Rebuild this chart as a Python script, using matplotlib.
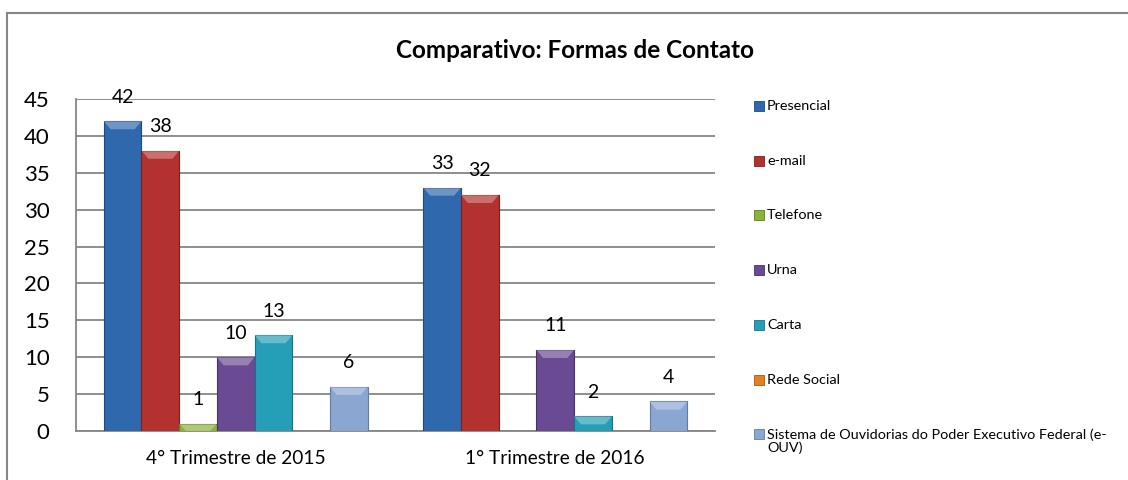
import numpy as np
import matplotlib
matplotlib.use("Agg")
import matplotlib.pyplot as plt
from matplotlib.lines import Line2D
from matplotlib.patches import Rectangle, Polygon

plt.rcParams['font.family'] = ['Lato', 'DejaVu Sans']

# data
categories = ['4° Trimestre de 2015', '1° Trimestre de 2016']
series = ['Presencial', 'e-mail', 'Telefone', 'Urna', 'Carta', 'Rede Social',
          'Sistema de Ouvidorias do Poder Executivo Federal (e-\nOUV)']
presencial = [42, 33]
email = [38, 32]
telefone = [1, 0]
urna = [10, 11]
carta = [13, 2]
rede_social = [0, 0]
e_ouv = [6, 4]
values = [presencial, email, telefone, urna, carta, rede_social, e_ouv]

colors = ['#2F68AC', '#B3312E', '#8AB437', '#6A4B93', '#259FB8', '#E4801F', '#8CA6D2']
edges = ['#1F4A80', '#7E1F1D', '#5E7E22', '#47306A', '#187286', '#A85A10', '#5F7BAA']

fig = plt.figure(figsize=(11.28, 4.8), dpi=100)
ax = fig.add_axes([76 / 1128, 49 / 480, (715 - 76) / 1128, (431 - 99) / 480])

x = np.arange(len(categories))
n = len(series)
width = 0.826 / n

for i, (name, vals) in enumerate(zip(series, values)):
    pos = x - 0.413 + width * (i + 0.5)
    bars = ax.bar(pos, vals, width, color=colors[i], edgecolor=edges[i], linewidth=0.8, zorder=3)
    for b, v in zip(bars, vals):
        if v > 0:
            # lighter bevel at the top of each bar
            h = min(1.1, v)
            x0, x1 = b.get_x(), b.get_x() + width
            ax.add_patch(Polygon([(x0, v), (x1, v), (x1 - width * 0.18, v - h), (x0 + width * 0.18, v - h)],
                                 closed=True, facecolor='white', alpha=0.3, linewidth=0, zorder=4))
            ax.text(b.get_x() + width / 2, v + 3.25, str(v), ha='center', va='center',
                    fontsize=14, color='#000000', zorder=5)

ax.set_xlim(-0.5, 1.5)
ax.set_ylim(0, 45)
ax.set_yticks(np.arange(0, 46, 5))
ax.set_xticks(x)
ax.set_xticklabels(categories, fontsize=13.8)
ax.tick_params(axis='y', labelsize=16, length=0, pad=19)
ax.tick_params(axis='x', length=0, pad=14)
ax.grid(axis='y', color='#868686', linewidth=1.3, zorder=0)
for s in ['top', 'right']:
    ax.spines[s].set_visible(False)
for s in ['left', 'bottom']:
    ax.spines[s].set_color('#868686')
    ax.spines[s].set_linewidth(1.3)

fig.text(575 / 1128, 1 - 50 / 480, 'Comparativo: Formas de Contato', ha='center', va='center',
         fontsize=17.5, fontweight='bold')

# legend drawn by hand
y0 = 106
step = 54.7
for i, name in enumerate(series):
    yc = y0 + i * step
    fig.add_artist(Rectangle((754 / 1128, 1 - (yc + 5) / 480), 10 / 1128, 10 / 480,
                             transform=fig.transFigure, facecolor=colors[i],
                             edgecolor=edges[i], linewidth=0.6))
    fig.text(767 / 1128, 1 - (yc - 6) / 480, name, ha='left', va='top', fontsize=10.4,
             linespacing=1.1)

# outer frame (top and left edges only visible)
fig.add_artist(Line2D([7 / 1128, 7 / 1128], [0, 1 - 13 / 480], transform=fig.transFigure,
                      color='#868686', linewidth=1.5))
fig.add_artist(Line2D([7 / 1128, 1], [1 - 13 / 480, 1 - 13 / 480], transform=fig.transFigure,
                      color='#868686', linewidth=1.5))

fig.savefig('out.png', dpi=100)
